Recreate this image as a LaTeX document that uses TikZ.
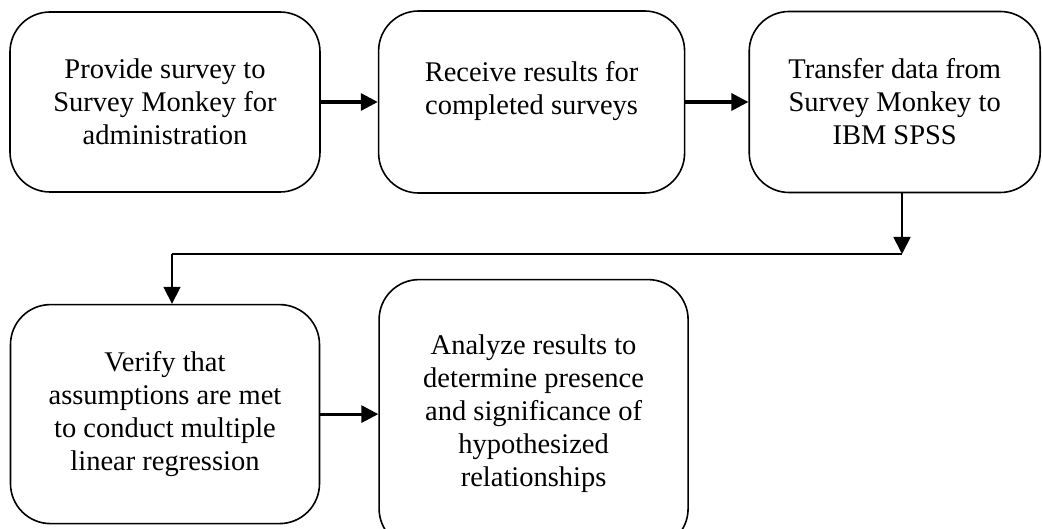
\documentclass[tikz,border=0pt]{standalone}
\usepackage{fontspec}
\setmainfont{Liberation Serif}
\usepackage{tikz}
\tikzset{
    stepbox/.style={rectangle,rounded corners=40pt,draw=black,line width=1.6pt,align=center,inner sep=0pt,font=\fontsize{28.5}{33}\selectfont},
    flow/.style={->,line width=3.2pt},
    link/.style={line width=1.8pt},
}
\usetikzlibrary{positioning,arrows.meta}

\begin{document}
\begin{tikzpicture}[>={Triangle[length=17pt,width=17pt]},x=1pt,y=1pt]
\useasboundingbox (0,0) rectangle (1042,-529);
\node[stepbox,minimum width=310pt,minimum height=180pt](provide) at (165,-102) {Provide survey to\\Survey Monkey for\\administration};
\node[stepbox,minimum width=306pt,minimum height=182pt](receive) [right =57pt of provide] {Receive results for\\completed surveys\\[-14pt]\strut};
\node[stepbox,minimum width=291pt,minimum height=181pt](transfer) [right =63pt of receive] {Transfer data from\\Survey Monkey to\\IBM SPSS};
\node[stepbox,minimum width=309pt,minimum height=219pt](verify) [below =111pt of provide] {Verify that\\assumptions are met\\to conduct multiple\\linear regression};
\node[stepbox,minimum width=309pt,minimum height=269pt](analyze) [right =58pt of verify] {Analyze results to\\determine presence\\and significance of\\hypothesized\\relationships};

\draw[flow] (provide) -- (receive);
\draw[flow] (receive) -- (transfer);
\draw[flow] (verify) -- (analyze);

% turn from the top row down to the second row
\coordinate (turnR) at (902,-254);
\coordinate (turnL) at (172,-254);
\draw[link,->] (transfer.south -| turnR) -- (turnR);
\draw[link] (turnR) -- (turnL);
\draw[link,->] (turnL) -- (verify.north -| turnL);
\end{tikzpicture}
\end{document}
